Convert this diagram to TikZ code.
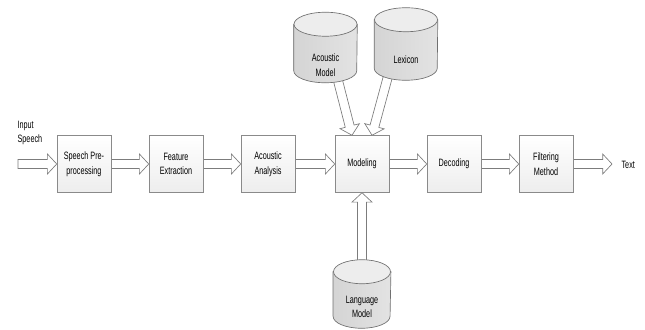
\documentclass[tikz,border=0pt]{standalone}
\usepackage{fontspec}
\setmainfont{Liberation Sans}[FakeStretch=0.68]
\usepackage{tikz}
\usetikzlibrary{calc, positioning}
\definecolor{boxline}{HTML}{8A8A8A}
\definecolor{arrowline}{HTML}{7C7C7C}
\definecolor{cylline}{HTML}{707070}
\definecolor{cylbody}{HTML}{E3E3E3}
\definecolor{cylend}{HTML}{EDEDED}
\pgfdeclarelayer{background}
\pgfsetlayers{background,main}

\begin{document}
\begin{tikzpicture}[x=0.75pt, y=0.75pt,
    % processing stages (plain boxes)
    stage/.style={draw=boxline, top color=white, bottom color=gray!14,
        minimum width=40.5pt, minimum height=42.75pt, inner sep=1pt,
        align=center, font=\fontsize{8}{11}\selectfont},
    % knowledge sources: an empty frame, the cylinder is drawn over it
    store/.style={minimum width=47.25pt, minimum height=52.5pt, inner sep=0pt},
    cylbody/.style={left color=cylbody!85!gray, right color=cylbody, draw=cylline, line width=0.5pt},
    cylend/.style={fill=cylend, draw=cylline, line width=0.5pt},
    txt/.style={align=center, font=\fontsize{8}{11}\selectfont, inner sep=1pt},
    % hollow block arrows
    fat/.style={draw=arrowline, fill=white, line width=0.5pt, line join=miter,
        to path={
            -- ($(\tikztostart)!3.4pt!90:(\tikztotarget)$)
            -- ($($(\tikztotarget)!7pt!(\tikztostart)$)!3.4pt!90:(\tikztotarget)$)
            -- ($($(\tikztotarget)!7pt!(\tikztostart)$)!7.5pt!90:(\tikztotarget)$)
            -- (\tikztotarget)
            -- ($($(\tikztotarget)!7pt!(\tikztostart)$)!7.5pt!-90:(\tikztotarget)$)
            -- ($($(\tikztotarget)!7pt!(\tikztostart)$)!3.4pt!-90:(\tikztotarget)$)
            -- ($(\tikztostart)!3.4pt!-90:(\tikztotarget)$)
            -- cycle}}
]
    \useasboundingbox (0,0) rectangle (645,329);

    % --- main chain of stages ---
    \node[stage] (pre)    at (84,165)  {Speech Pre-\\processing};
    \node[stage] (feat)   at (176,165) {Feature\\Extraction};
    \node[stage] (ana)    at (268,165) {Acoustic\\Analysis};
    \node[stage] (model)  at (362,165) {Modeling};
    \node[stage] (dec)    at (454,165) {Decoding};
    \node[stage] (filt)   at (546,165) {Filtering\\Method};

    % --- knowledge sources ---
    \node[store] (am)  at (325.5,281.5) {};
    \node[store, minimum height=54pt] (lex) at (406,285) {};
    \node[store, minimum width=43pt, minimum height=51pt] (lm) at (362,35) {};

    % cylinders: body first, then the lid
    \foreach \c/\r in {am/31.5, lex/31.5, lm/28.5} {
        \path[cylbody] ($(\c.north west)+(0,-12)$) -- ($(\c.south west)+(0,12)$)
            arc[start angle=180, end angle=360, x radius=\r, y radius=12]
            -- ($(\c.north east)+(0,-12)$) -- cycle;
        \path[cylend] ($(\c.north)+(0,-12)$) ellipse[x radius=\r, y radius=12];
    }

    \node[txt] (am-text)  at (325.5,264) {Acoustic\\Model};
    \node[txt] (lex-text) at (406,269)   {Lexicon};
    \node[txt] (lm-text)  at (362,22)    {Language\\Model};

    % --- input and output ---
    \coordinate (in)  at (18,165);
    \coordinate (out) at (612,165);
    \node[txt, align=left, anchor=west] (speech) at (16,196) {Input\\Speech};
    \node[txt, anchor=west] (text) at (620,164) {Text};

    % --- block arrows, kept behind the shapes ---
    \begin{pgfonlayer}{background}
        \draw[fat] (in) to (pre.west);
        \draw[fat] (pre.east) to (feat.west);
        \draw[fat] (feat.east) to (ana.west);
        \draw[fat] (ana.east) to (model.west);
        \draw[fat] (model.east) to (dec.west);
        \draw[fat] (dec.east) to (filt.west);
        \draw[fat] (filt.east) to (out);

        \draw[fat] ($(am.south)+(12,4)$) to ($(model.north)+(-10,0)$);
        \draw[fat] ($(lex.south)+(-18,4)$) to ($(model.north)+(10,0)$);
        \draw[fat] ($(lm.north)+(0,-4)$) to (model.south);
    \end{pgfonlayer}
\end{tikzpicture}
\end{document}
